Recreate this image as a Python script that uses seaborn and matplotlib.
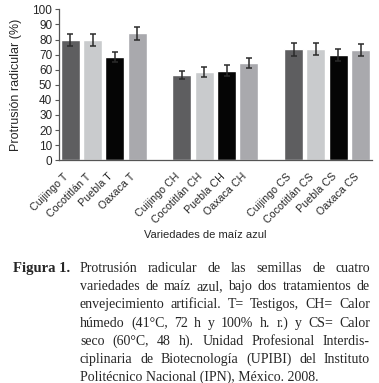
import numpy as np
import pandas as pd
import matplotlib
matplotlib.use("Agg")
import matplotlib.pyplot as plt
import seaborn as sns

# chart data
slots = ["Cuijingo T", "Cocotitlán T", "Puebla T", "Oaxaca T", "gap1",
         "Cuijingo CH", "Cocotitlán CH", "Puebla CH", "Oaxaca CH", "gap2",
         "Cuijingo CS", "Cocotitlán CS", "Puebla CS", "Oaxaca CS"]
labels = ["Cuijingo T", "Cocotitlán T", "Puebla T", "Oaxaca T",
          "Cuijingo CH", "Cocotitlán CH", "Puebla CH", "Oaxaca CH",
          "Cuijingo CS", "Cocotitlán CS", "Puebla CS", "Oaxaca CS"]
values = [79.7, 79.7, 68.4, 84.1, 56.5, 58.4, 59.2, 64.4, 73.6, 73.6, 69.8, 72.9]
errors = [4.2, 4.1, 3.5, 4.3, 2.9, 3.1, 3.7, 3.5, 4.3, 3.8, 4.2, 4.0]
variety_colors = ["#5e5e60", "#c9cbcd", "#050505", "#a9a9ad"]

caption = [
    "Protrusión radicular de las semillas de cuatro",
    "variedades de maíz azul, bajo dos tratamientos de",
    "envejecimiento artificial. T= Testigos, CH= Calor",
    "húmedo (41°C, 72 h y 100% h. r.) y CS= Calor",
    "seco (60°C, 48 h). Unidad Profesional Interdis-",
    "ciplinaria de Biotecnología (UPIBI) del Instituto",
    "Politécnico Nacional (IPN), México. 2008.",
]

df = pd.DataFrame({"label": labels, "value": values, "err": errors})
palette = {lab: variety_colors[i % 4] for i, lab in enumerate(labels)}

sns.set_style("white")
plt.rcParams["font.family"] = ["Liberation Sans", "DejaVu Sans"]

fig = plt.figure(figsize=(3.79, 3.83), dpi=100)
ax = fig.add_axes([0.156, 0.5815, 0.825, 0.3942])

sns.barplot(data=df, x="label", y="value", hue="label", order=slots,
            palette=palette, width=0.85, legend=False, ax=ax, saturation=1)

# error bars at the bar positions
pos = [slots.index(l) for l in labels]
ax.errorbar(pos, values, yerr=errors, fmt="none", ecolor="#2b2b2b",
            elinewidth=1.1, capsize=2.2, capthick=1.1)

ax.set_xlim(-0.5, 13.5)
ax.set_ylim(0, 100)
ax.set_yticks(range(0, 101, 10))
ax.tick_params(axis="y", labelsize=8.5, length=3, width=0.8, color="#555555",
               pad=2, left=True)
ax.set_xticks(range(len(slots)))
ax.set_xticklabels([s if not s.startswith("gap") else "" for s in slots],
                   rotation=45, ha="right", fontsize=7.7)
ax.tick_params(axis="x", length=0, pad=8)
for sp in ["top", "right"]:
    ax.spines[sp].set_visible(False)
for sp in ["left", "bottom"]:
    ax.spines[sp].set_color("#555555")
    ax.spines[sp].set_linewidth(0.9)

ax.set_xlabel("")
ax.set_ylabel("Protrusión radicular (%)", fontsize=9)
ax.yaxis.set_label_coords(-0.12, 0.5)

fig.text(205 / 379, 1 - 235 / 383, "Variedades de maíz azul", ha="center",
         va="center", fontsize=8)

# caption, justified by hand
serif = ["Liberation Serif", "DejaVu Serif"]
fsize = 10
base0, step = 272, 18.2
fig.text(13 / 379, 1 - base0 / 383, "Figura 1.", fontsize=10.5,
         fontweight="bold", family=serif, va="baseline", ha="left")
renderer = fig.canvas.get_renderer()
x0, x1 = 80, 370
for i, line in enumerate(caption):
    y = 1 - (base0 + step * i) / 383
    words = line.split(" ")
    if i == len(caption) - 1:
        fig.text(x0 / 379, y, line, fontsize=fsize, family=serif, va="baseline")
        continue
    objs = [fig.text(0, y, w, fontsize=fsize, family=serif, va="baseline")
            for w in words]
    widths = [o.get_window_extent(renderer).width for o in objs]
    gap = (x1 - x0 - sum(widths)) / (len(words) - 1)
    x = x0
    for o, w in zip(objs, widths):
        o.set_x(x / 379)
        x += w + gap

fig.savefig("out.png", dpi=100)
